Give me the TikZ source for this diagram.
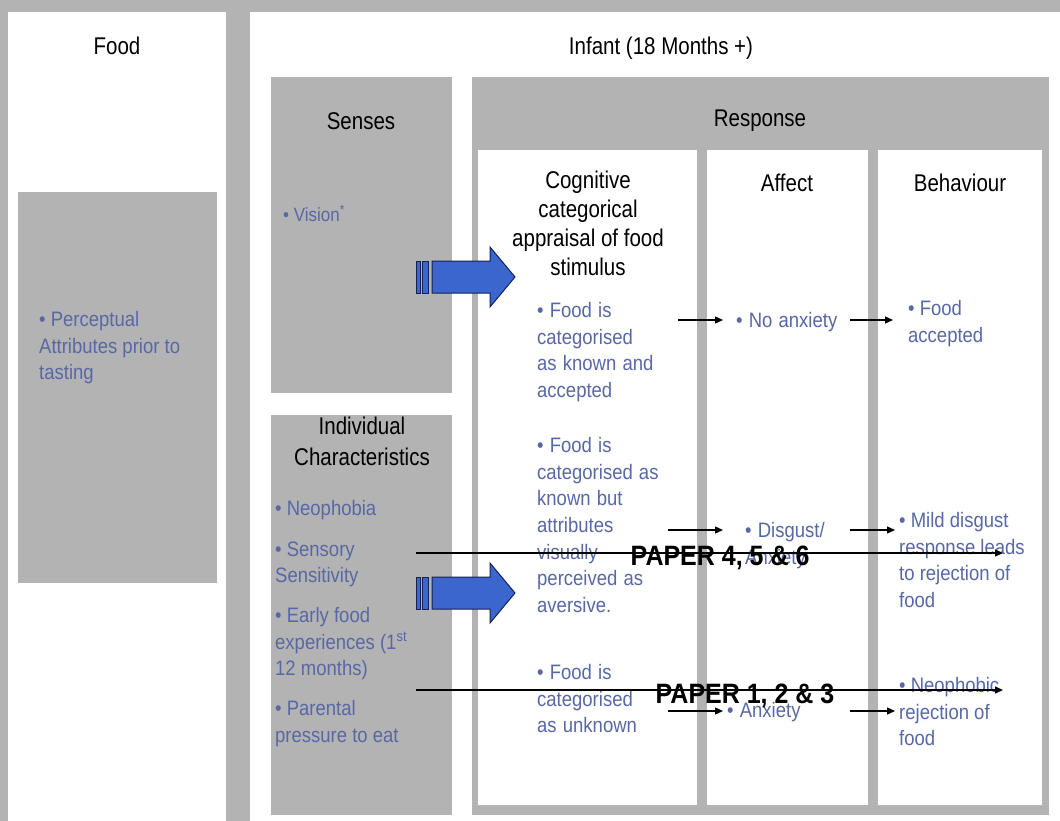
\documentclass[tikz,border=0pt]{standalone}
\usepackage{fontspec}
\setmainfont{Liberation Sans}
\usetikzlibrary{arrows.meta, positioning, calc}
\definecolor{PanelGrey}{RGB}{179,179,179}
\definecolor{BulletBlue}{RGB}{88,104,165}
\definecolor{BlockBlue}{RGB}{58,102,206}
\definecolor{BlockEdge}{RGB}{22,32,84}

\begin{document}
\begin{tikzpicture}[x=1pt, y=-1pt,
    head/.style={font=\fontsize{20.5}{24.6}\selectfont, text=black, inner sep=0pt, align=center,
        yscale=1.18, transform shape},
    bul/.style={font=\fontsize{18.5}{23.6}\selectfont, text=BulletBlue, inner sep=0pt,
        align=left, anchor=north west, yscale=1.13, transform shape},
    box/.style={fill=PanelGrey, inner sep=0pt, anchor=north west},
    col/.style={fill=white, inner sep=0pt, anchor=north west},
    link/.style={-{Triangle[length=8pt, width=7pt]}, line width=1.3pt, black},
    paper/.style={font=\fontsize{25}{30}\selectfont\bfseries, text=black, inner sep=0pt,
        yscale=1.12, transform shape},
]
\useasboundingbox (0,0) rectangle (1060,821);
\fill[PanelGrey] (0,0) rectangle (1060,821);

% ================= panels =================
\node[col, minimum width=218pt, minimum height=809pt] (foodpanel) at (8,12) {};
\node[col, minimum width=810pt, minimum height=809pt] (infpanel) at (250,12) {};
\node[box, minimum width=199pt, minimum height=391pt] (foodbox) at (18,192) {};
\node[box, minimum width=181pt, minimum height=316pt] (senses) at (271,77) {};
\node[box, minimum width=181pt, minimum height=400pt] (indiv) at (271,415) {};
\node[box, minimum width=577pt, minimum height=738pt] (resp) at (472,77) {};
\node[col, minimum width=219pt, minimum height=655pt] (cogcol) at (478,150) {};
\node[col, minimum width=161pt, minimum height=655pt] (affcol) at (707,150) {};
\node[col, minimum width=164pt, minimum height=655pt] (behcol) at (878,150) {};

% ================= headings =================
\node[head] (foodhd) at (117,46) {Food};
\node[head] (infhd) at (661,48) {Infant (18 Months +)};
\node[head] (senshd) at (361,121) {Senses};
\node[head] (resphd) at (760,121) {Response};
\node[head, anchor=north] (coghd) at (588,171) {Cognitive\\categorical\\appraisal of food\\stimulus};
\node[head] (affhd) at (787,183) {Affect};
\node[head] (behhd) at (960,183) {Behaviour};
\node[head, anchor=north, font=\fontsize{20.5}{26.3}\selectfont] (indivhd) at (362,417)
    {Individual\\Characteristics};

% ================= bullet texts =================
\node[bul] (percept) at (39,311) {\textbullet{} Perceptual\\Attributes prior to\\tasting};
\node[bul, font=\fontsize{17}{21}\selectfont] (vision) at (283,205) {\textbullet{} Vision\textsuperscript{*}};
\node[bul] (traits) at (275,500) {\textbullet{} Neophobia\\[12.4pt]\textbullet{} Sensory\\Sensitivity\\[11.5pt]%
    \textbullet{} Early food\\experiences (1\textsuperscript{st}\\12 months)\\[11.5pt]%
    \textbullet{} Parental\\pressure to eat};

\node[bul, text width=141pt] (cog1) at (537,302) {\textbullet{} Food is\\categorised\\as known and\\accepted};
\node[bul, text width=131pt] (cog2) at (537,437)
    {\textbullet{} Food is\\categorised as\\known but\\attributes\\visually\\perceived as\\aversive.};
\node[bul, text width=131pt] (cog3) at (537,664) {\textbullet{} Food is\\categorised\\as unknown};

\node[bul, text width=114pt] (aff1) at (736,312) {\textbullet{} No anxiety};
\node[bul, text width=105pt] (aff2) at (745,522) {\textbullet{} Disgust/\\Anxiety};
\node[bul, text width=123pt] (aff3) at (727,702) {\textbullet{} Anxiety};

\node[bul] (beh1) at (908,300) {\textbullet{} Food\\accepted};
\node[bul] (beh2) at (899,512) {\textbullet{} Mild disgust\\response leads\\to rejection of\\food};
\node[bul] (beh3) at (899,677) {\textbullet{} Neophobic\\rejection of\\food};

% ================= small arrows =================
\coordinate (r1) at (0,320);
\coordinate (r2) at (0,530);
\coordinate (r3) at (0,711);
\draw[link, shorten >=13pt] (cog1.east |- r1) -- (aff1.west |- r1);
\draw[link, shorten >=22pt] (cog2.east |- r2) -- (aff2.west |- r2);
\draw[link, shorten >=4pt] (cog3.east |- r3) -- (aff3.west |- r3);
\draw[link, shorten >=15pt] (aff1.east |- r1) -- (beh1.west |- r1);
\draw[link, shorten >=4pt] (aff2.east |- r2) -- (beh2.west |- r2);
\draw[link, shorten >=4pt] (aff3.east |- r3) -- (beh3.west |- r3);

% ================= block arrows =================
\foreach \yy in {277,593} {
  \filldraw[fill=BlockBlue, draw=BlockEdge, line width=1pt]
    (432,\yy-16) -- (490,\yy-16) -- (490,\yy-30) -- (515,\yy) -- (490,\yy+30)
    -- (490,\yy+16) -- (432,\yy+16) -- cycle;
  \filldraw[fill=BlockBlue, draw=BlockEdge, line width=1pt] (416,\yy-16) rectangle (420,\yy+16);
  \filldraw[fill=BlockBlue, draw=BlockEdge, line width=1pt] (422,\yy-16) rectangle (428,\yy+16);
}

% ================= papers =================
\coordinate (p4from) at (416,553);
\coordinate (p4to) at (1003,553);
\coordinate (p1from) at (416,690);
\coordinate (p1to) at (1003,690);
\draw[link, line width=1.4pt] (p4from) -- (p4to)
    node[paper, pos=0.518, yshift=-4pt] (ppr456) {PAPER 4, 5 \& 6};
\draw[link, line width=1.4pt] (p1from) -- (p1to)
    node[paper, pos=0.5605, yshift=-5pt] (ppr123) {PAPER 1, 2 \& 3};

\end{tikzpicture}
\end{document}
